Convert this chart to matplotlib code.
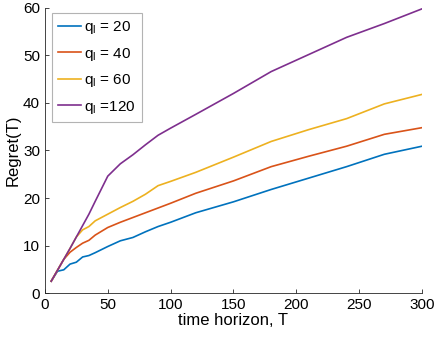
import matplotlib.pyplot as plt

plt.rcParams["font.family"] = ["Liberation Sans", "DejaVu Sans"]
plt.rcParams["mathtext.fontset"] = "custom"
plt.rcParams["mathtext.rm"] = "Liberation Sans"
plt.rcParams["mathtext.it"] = "Liberation Sans"

T = [5, 10, 15, 20, 25, 30, 35, 40, 50, 60, 70, 80, 90, 100, 120, 150, 180, 210, 240, 270, 300]

regret_20 = [2.5, 4.6, 4.9, 6.1, 6.5, 7.6, 7.9, 8.5, 9.8, 11.0, 11.7, 12.9, 14.0, 14.9,
             16.9, 19.2, 21.8, 24.2, 26.6, 29.2, 30.9]
regret_40 = [2.5, 4.8, 7.1, 8.6, 9.6, 10.5, 11.1, 12.2, 13.8, 14.9, 15.9, 16.9, 17.9, 18.9,
             21.0, 23.6, 26.6, 28.8, 30.9, 33.4, 34.8]
regret_60 = [2.5, 4.8, 7.1, 9.4, 11.8, 13.3, 14.0, 15.2, 16.6, 18.0, 19.3, 20.8, 22.6, 23.5,
             25.4, 28.6, 31.9, 34.4, 36.7, 39.8, 41.8]
regret_120 = [2.5, 4.8, 7.1, 9.4, 11.8, 14.2, 16.6, 19.3, 24.6, 27.2, 29.1, 31.2, 33.2, 34.7,
              37.6, 42.0, 46.6, 50.2, 53.8, 56.7, 59.8]

labels = ["q$_\\mathregular{l}$ = 20", "q$_\\mathregular{l}$ = 40",
          "q$_\\mathregular{l}$ = 60", "q$_\\mathregular{l}$ =120"]
colors = ["#0072BD", "#D95319", "#EDB120", "#7E2F8E"]

fig = plt.figure(figsize=(4.36, 3.42), dpi=100)
ax = fig.add_axes([0.103, 0.143, 0.865, 0.834])

for ys, lab, c in zip([regret_20, regret_40, regret_60, regret_120], labels, colors):
    ax.plot(T, ys, color=c, lw=1.2, label=lab)

ax.set_xlim(0, 300)
ax.set_ylim(0, 60)
ax.set_xticks(range(0, 301, 50))
ax.set_yticks(range(0, 61, 10))
ax.set_xlabel("time horizon, T", fontsize=12, labelpad=1)
ax.set_ylabel("Regret(T)", fontsize=12, labelpad=2)

for s in ["top", "right"]:
    ax.spines[s].set_visible(False)
for s in ["left", "bottom"]:
    ax.spines[s].set_color("#262626")
    ax.spines[s].set_linewidth(0.6)
ax.tick_params(direction="in", length=3, width=0.6, colors="#262626", labelsize=11, labelcolor="black")

leg = ax.legend(loc="upper left", fontsize=11, frameon=True, fancybox=False,
                handlelength=1.5, handletextpad=0.2, borderaxespad=0.0,
                labelspacing=0.62, borderpad=0.4,
                bbox_to_anchor=(0.0186, 0.982))
leg.get_frame().set_edgecolor("#a0a0a0")
leg.get_frame().set_linewidth(0.8)

fig.savefig("out.png", dpi=100)
